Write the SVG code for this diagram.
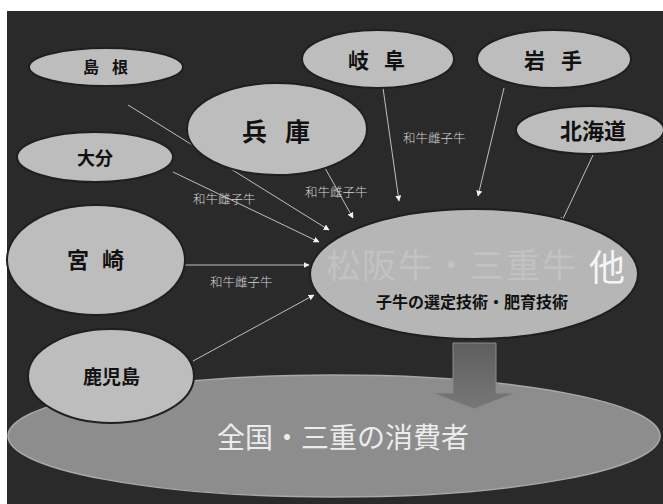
<svg xmlns="http://www.w3.org/2000/svg" width="663" height="504" viewBox="0 0 663 504">
<defs>
<style>
.node{fill:#bdbdbd;stroke:#1f1f1f;stroke-width:2}
.lbl{font-family:"Noto Sans CJK JP","Liberation Sans",sans-serif;font-weight:bold;fill:#111}
.edge{stroke:#cfcfcf;stroke-width:0.9;fill:none;marker-end:url(#ah)}
.elbl{font-family:"Noto Sans CJK JP","Liberation Sans",sans-serif;font-size:12.5px;fill:#d4d4d4;font-weight:300}
</style>
<marker id="ah" viewBox="0 0 10 10" refX="9" refY="5" markerWidth="6" markerHeight="6" markerUnits="userSpaceOnUse" orient="auto">
<path d="M0,0 L10,5 L0,10 z" fill="#f2f2f2"/>
</marker>
<linearGradient id="ag" x1="0" y1="0" x2="0" y2="1">
<stop offset="0" stop-color="#5e5e5e"/>
<stop offset="1" stop-color="#787878"/>
</linearGradient>
</defs>
<rect x="0" y="0" width="663" height="504" fill="#ffffff"/>
<rect x="7" y="11" width="656" height="493" fill="#2a2a2a"/>

<g id="consumers">
<ellipse cx="334" cy="436" rx="326" ry="61" fill="#8d8d8d" stroke="#a8a8a8" stroke-width="1.5"/>
<text x="217" y="448" font-family="'Noto Sans CJK JP','Liberation Sans',sans-serif" font-size="28" fill="#ececec">全国・三重の消費者</text>
</g>

<g id="flow-arrow">
<polygon points="453,343 496,343 496,393 515,393 474,409 433,393 453,393" fill="url(#ag)" stroke="#8a8a8a" stroke-width="1"/>
</g>

<g id="connectors">
<line class="edge" x1="128" y1="105" x2="329" y2="230"/>
<line class="edge" x1="173" y1="172" x2="319" y2="242"/>
<line class="edge" x1="185" y1="265" x2="309" y2="265"/>
<line class="edge" x1="193" y1="361" x2="314" y2="295"/>
<line class="edge" x1="325" y1="168" x2="353" y2="218"/>
<line class="edge" x1="383" y1="88" x2="399" y2="201"/>
<line class="edge" x1="504" y1="88" x2="478" y2="196"/>
<line class="edge" x1="593" y1="155" x2="561" y2="223"/>
<text class="elbl" x="193" y="204">和牛雌子牛</text>
<text class="elbl" x="305" y="197">和牛雌子牛</text>
<text class="elbl" x="403" y="143">和牛雌子牛</text>
<text class="elbl" x="210" y="287">和牛雌子牛</text>
</g>

<g id="center">
<ellipse cx="474" cy="274" rx="164" ry="65" fill="#b6b6b6" stroke="#1f1f1f" stroke-width="2"/>
<text x="326" y="278" font-family="'Noto Sans CJK JP','Liberation Sans',sans-serif" font-size="34" letter-spacing="2" fill="#c2c2c2">松阪牛・三重牛</text>
<text x="589" y="281" font-family="'Noto Sans CJK JP','Liberation Sans',sans-serif" font-size="36" fill="#f4f4f4">他</text>
<text class="lbl" x="472" y="308" font-size="16" text-anchor="middle">子牛の選定技術・肥育技術</text>
</g>

<g id="shimane">
<ellipse class="node" cx="106" cy="67" rx="77" ry="19"/>
<text class="lbl" x="83 112" y="73" font-size="16">島根</text>
</g>
<g id="gifu">
<ellipse class="node" cx="378" cy="59" rx="76" ry="29"/>
<text class="lbl" x="348 384" y="68" font-size="21">岐阜</text>
</g>
<g id="iwate">
<ellipse class="node" cx="554" cy="59" rx="77" ry="29"/>
<text class="lbl" x="524 561" y="68" font-size="21">岩手</text>
</g>
<g id="hyogo">
<ellipse class="node" cx="277" cy="129" rx="90" ry="46"/>
<text class="lbl" x="242 285" y="141" font-size="25">兵庫</text>
</g>
<g id="hokkaido">
<ellipse class="node" cx="590" cy="130" rx="74" ry="24"/>
<text class="lbl" x="560" y="139" font-size="22">北海道</text>
</g>
<g id="oita">
<ellipse class="node" cx="95" cy="157" rx="78" ry="25"/>
<text class="lbl" x="77" y="165" font-size="18">大分</text>
</g>
<g id="miyazaki">
<ellipse class="node" cx="96" cy="260" rx="89" ry="55"/>
<text class="lbl" x="67 102" y="268" font-size="22">宮崎</text>
</g>
<g id="kagoshima">
<ellipse class="node" cx="111" cy="376" rx="83" ry="47"/>
<text class="lbl" x="83" y="384" font-size="19">鹿児島</text>
</g>
</svg>
